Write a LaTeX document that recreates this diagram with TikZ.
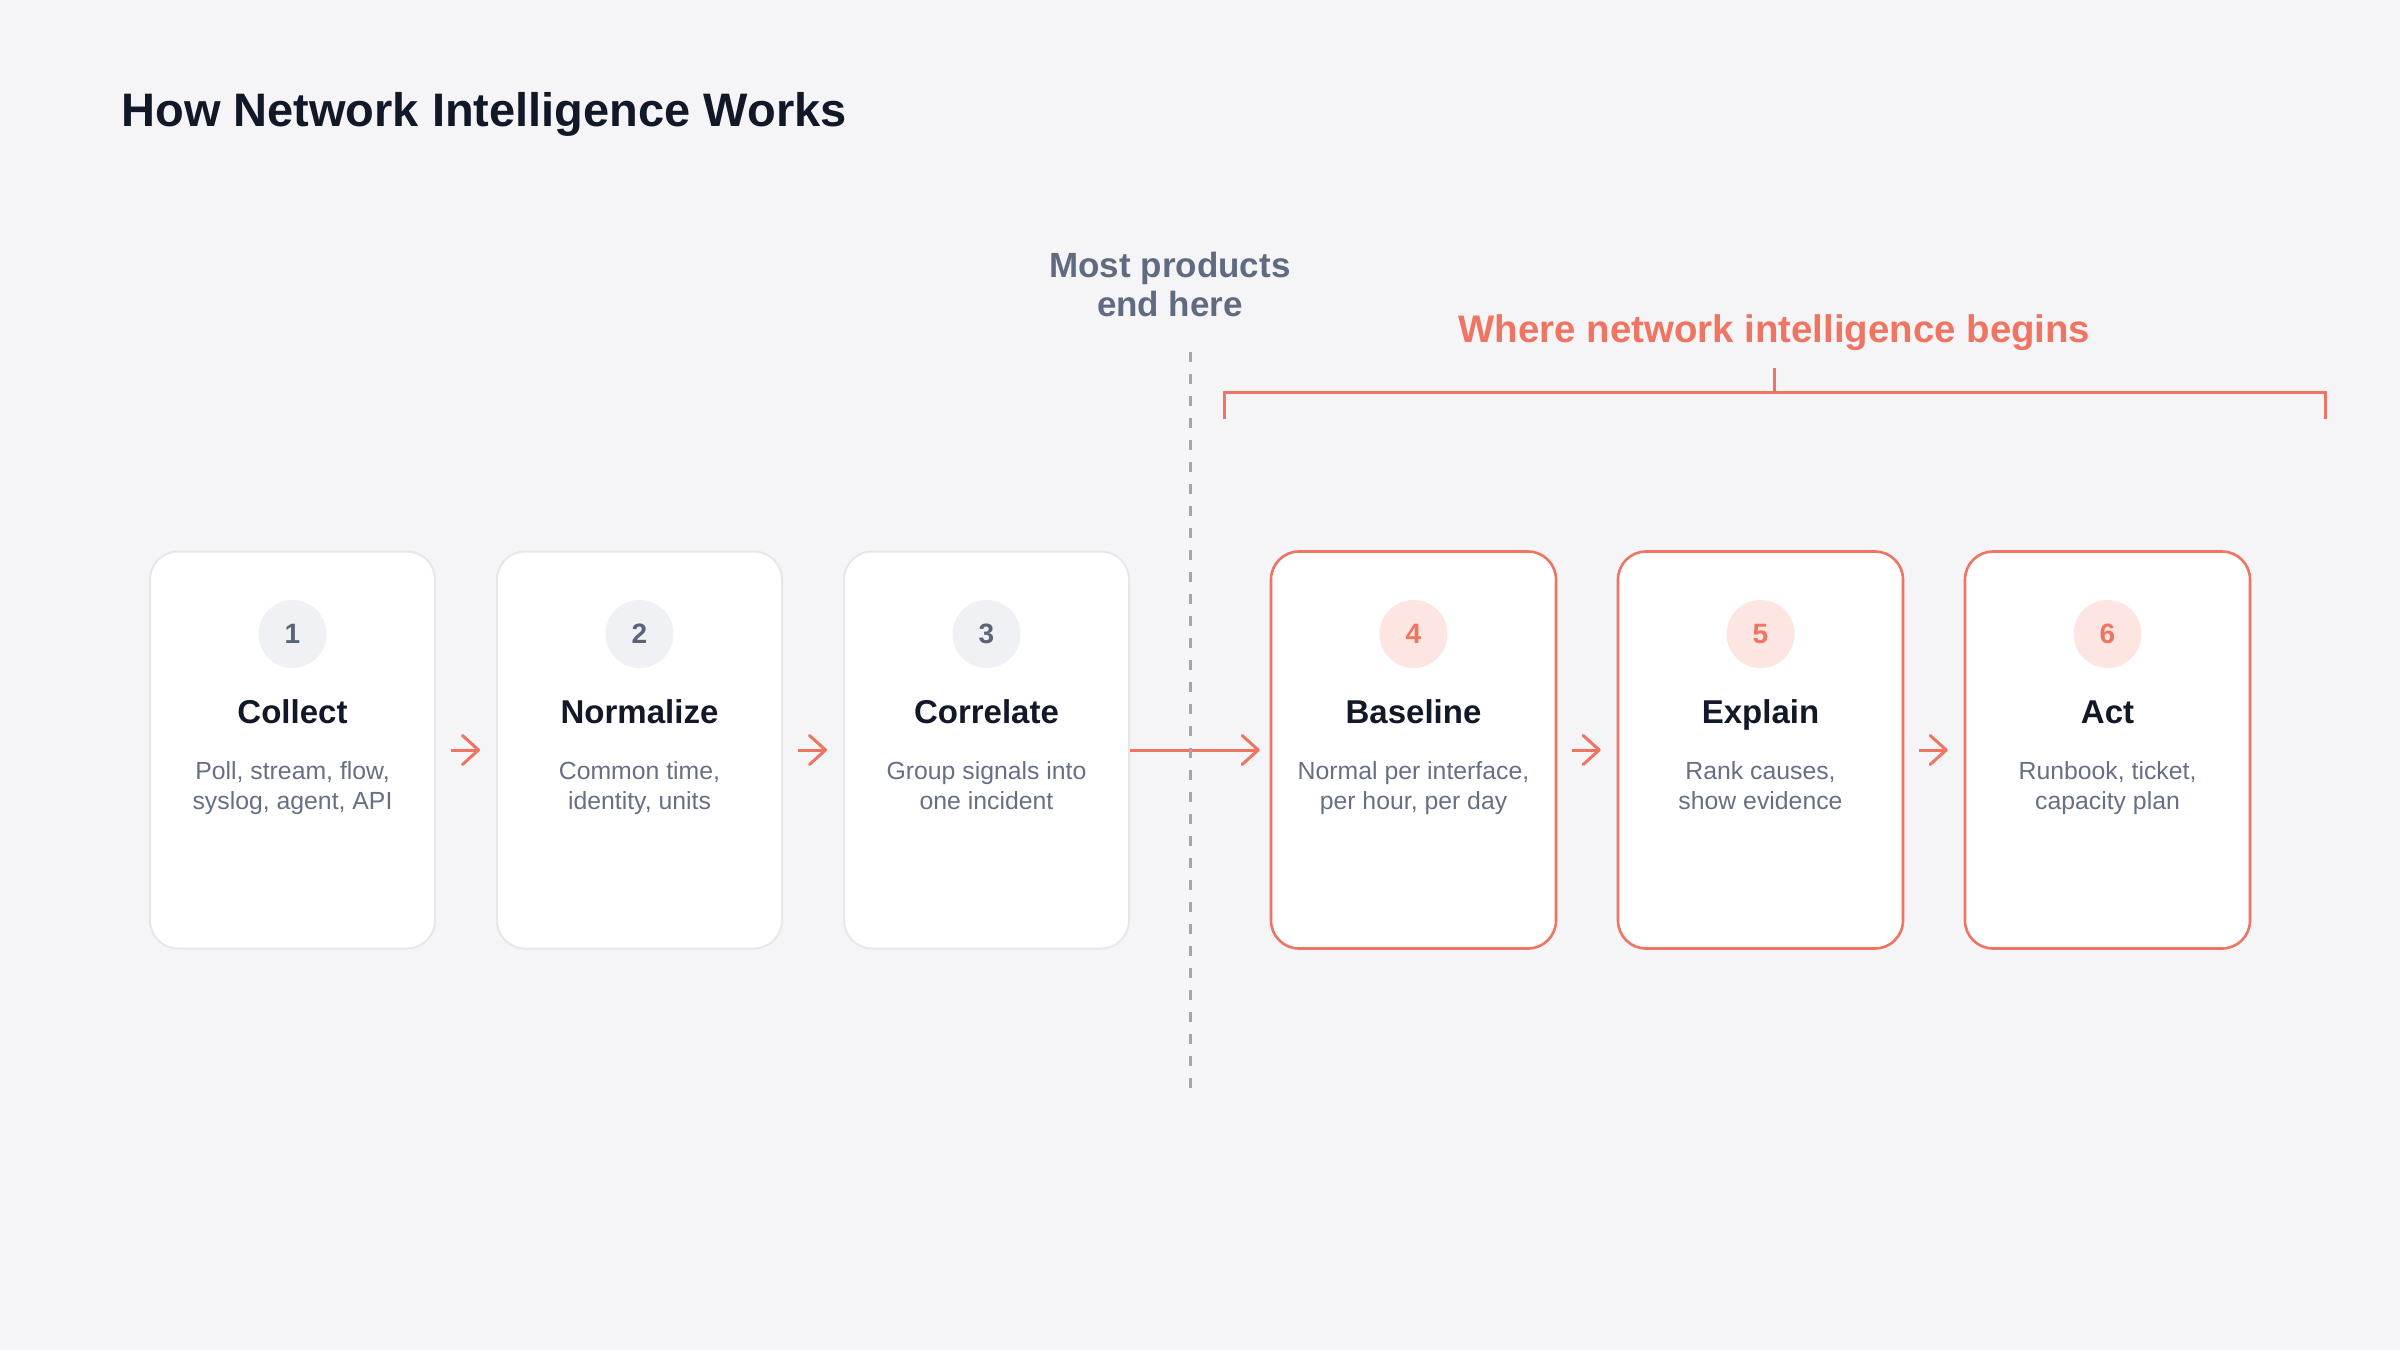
\documentclass[tikz,border=0pt]{standalone}
\usepackage{fontspec}
\setmainfont{Liberation Sans}
\usetikzlibrary{arrows.meta}
\definecolor{bgc}{HTML}{F5F5F7}
\definecolor{coral}{HTML}{EF7461}
\definecolor{cardline}{HTML}{E6E7EB}
\definecolor{circgray}{HTML}{F0F1F4}
\definecolor{circcoral}{HTML}{FDE5E1}
\definecolor{numgray}{HTML}{5A6478}
\definecolor{darktext}{HTML}{111827}
\definecolor{desctext}{HTML}{667085}
\definecolor{mostgray}{HTML}{5F6B80}
\definecolor{dashgray}{HTML}{A0A7B3}
\tikzset{
  card/.style={draw=cardline, line width=1pt, fill=white, rounded corners=14pt,
    minimum width=142.5pt, minimum height=198.5pt, inner sep=0pt},
  cardhot/.style={card, draw=coral, line width=1.3pt},
  numcirc/.style={circle, fill=circgray, minimum size=34pt, inner sep=0pt,
    text=numgray, font=\bfseries\fontsize{14}{16}\selectfont},
  numhot/.style={numcirc, fill=circcoral, text=coral},
  cardtitle/.style={anchor=base, inner sep=0pt, text=darktext,
    font=\bfseries\fontsize{16.5}{19}\selectfont},
  carddesc/.style={anchor=base, inner sep=0pt, text=desctext, align=center,
    font=\fontsize{12.4}{14.75}\selectfont},
  arr/.style={draw=coral, line width=1.5pt,
    -{Straight Barb[length=8pt, width=14.5pt, line width=1.5pt, round]}},
}
\begin{document}
\begin{tikzpicture}[x=0.5pt, y=-0.5pt]
\useasboundingbox[fill=bgc] (0,0) rectangle (2400,1350);

% title
\node[anchor=base west, inner sep=0pt, text=darktext,
  font=\bfseries\fontsize{23.5}{28}\selectfont] (title) at (121,126) {How Network Intelligence Works};

% cards
\node[card]    (c1) at (292.5,750) {};
\node[card]    (c2) at (639.5,750) {};
\node[card]    (c3) at (986.5,750) {};
\node[cardhot] (c4) at (1413.5,750) {};
\node[cardhot] (c5) at (1760.5,750) {};
\node[cardhot] (c6) at (2107.5,750) {};

% number circles
\node[numcirc] (n1) at (292.5,634) {1};
\node[numcirc] (n2) at (639.5,634) {2};
\node[numcirc] (n3) at (986.5,634) {3};
\node[numhot]  (n4) at (1413.5,634) {4};
\node[numhot]  (n5) at (1760.5,634) {5};
\node[numhot]  (n6) at (2107.5,634) {6};

% card titles
\node[cardtitle] (t1) at (292.5,723) {Collect};
\node[cardtitle] (t2) at (639.5,723) {Normalize};
\node[cardtitle] (t3) at (986.5,723) {Correlate};
\node[cardtitle] (t4) at (1413.5,723) {Baseline};
\node[cardtitle] (t5) at (1760.5,723) {Explain};
\node[cardtitle] (t6) at (2107.5,723) {Act};

% descriptions (anchor at baseline of last line)
\node[carddesc] (d1) at (292.5,809) {Poll, stream, flow,\\syslog, agent, API};
\node[carddesc] (d2) at (639.5,809) {Common time,\\identity, units};
\node[carddesc] (d3) at (986.5,809) {Group signals into\\one incident};
\node[carddesc] (d4) at (1413.5,809) {Normal per interface,\\per hour, per day};
\node[carddesc] (d5) at (1760.5,809) {Rank causes,\\show evidence};
\node[carddesc] (d6) at (2107.5,809) {Runbook, ticket,\\capacity plan};

% arrows
\draw[arr] ([xshift=7.5pt]c1.east) -- ([xshift=-8pt]c2.west);
\draw[arr] ([xshift=7.5pt]c2.east) -- ([xshift=-8pt]c3.west);
\draw[arr] (c3.east) -- ([xshift=-5pt]c4.west);
\draw[arr] ([xshift=7.5pt]c4.east) -- ([xshift=-8pt]c5.west);
\draw[arr] ([xshift=7.5pt]c5.east) -- ([xshift=-8pt]c6.west);

% dashed divider
\coordinate (dtop) at (1190,352);
\coordinate (dbot) at (1190,1096);
\draw[dashgray, line width=1.5pt, dash pattern=on 5pt off 6pt] (dtop) -- (dbot);

% divider label
\node[anchor=base, inner sep=0pt, text=mostgray, align=center,
  font=\bfseries\fontsize{17.5}{19.5}\selectfont] (most) at (1170,316) {Most products\\end here};

% bracket
\draw[coral, line width=1.5pt] (1224,419) -- (1224,392) -- (2325,392) -- (2325,419);
\draw[coral, line width=1.5pt] (1774.5,392) -- (1774.5,368);
\node[anchor=base, inner sep=0pt, text=coral,
  font=\bfseries\fontsize{19.2}{23}\selectfont] (where) at (1774.5,342) {Where network intelligence begins};
\end{tikzpicture}
\end{document}
